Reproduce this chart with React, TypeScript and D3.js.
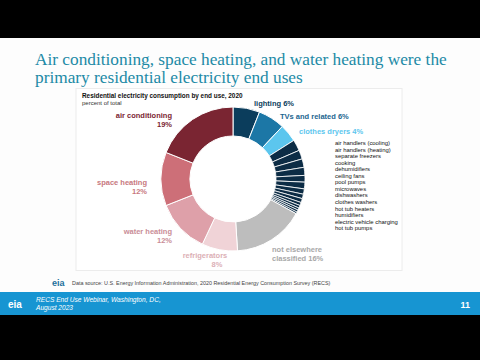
import React from "react";
import * as d3 from "d3";

// end uses, clockwise from 12 o'clock
const bigUses = ["lighting", "TVs and related", "clothes dryers"];
const bigValues = [6, 6, 4];
const smallUses = [
  "air handlers (cooling)",
  "air handlers (heating)",
  "separate freezers",
  "cooking",
  "dehumidifiers",
  "ceiling fans",
  "pool pumps",
  "microwaves",
  "dishwashers",
  "clothes washers",
  "hot tub heaters",
  "humidifiers",
  "electric vehicle charging",
  "hot tub pumps",
];
const smallValues = [2.5, 2, 1.9, 1.8, 1.5, 1.5, 1.2, 1.0, 0.9, 0.7, 0.6, 0.5, 0.5, 0.4];
const restUses = ["not elsewhere classified", "refrigerators", "water heating", "space heating", "air conditioning"];
const restValues = [16, 8, 12, 12, 19];

const colors: Record<string, string> = {
  lighting: "#0b3d5c",
  "TVs and related": "#1c77a6",
  "clothes dryers": "#5cc6ee",
  "not elsewhere classified": "#bdbdbd",
  refrigerators: "#f0d3d7",
  "water heating": "#dea0a9",
  "space heating": "#cd6f78",
  "air conditioning": "#7a2532",
};
const smallColor = "#0c2c45";

export default function App() {
  const slices = [
    ...bigUses.map((k, i) => ({ key: k, value: bigValues[i] })),
    ...smallUses.map((k, i) => ({ key: k, value: smallValues[i] })),
    ...restUses.map((k, i) => ({ key: k, value: restValues[i] })),
  ];
  const pie = d3.pie<{ key: string; value: number }>().sort(null).value((d) => d.value);
  const arc = d3.arc<d3.PieArcDatum<{ key: string; value: number }>>().innerRadius(43).outerRadius(72);
  const arcs = pie(slices);
  const cx = 233;
  const cy = 179;

  const serif = "'Liberation Serif', 'Times New Roman', serif";
  const sans = "'Liberation Sans', Arial, sans-serif";

  return (
    <svg width={480} height={360} style={{ position: "absolute", left: 0, top: 0 }}>
      <rect x={0} y={0} width={480} height={360} fill="#000" />
      <rect x={0} y={38} width={480} height={277} fill="#fdfdfd" />
      {/* title */}
      <text x={35} y={65} fontFamily={serif} fontSize={17.3} fill="#1c8aa6">
        Air conditioning, space heating, and water heating were the
      </text>
      <text x={35} y={83} fontFamily={serif} fontSize={17.3} fill="#1c8aa6">
        primary residential electricity end uses
      </text>

      {/* chart panel */}
      <rect x={76} y={88.5} width={326} height={182} fill="#fff" stroke="#ececec" strokeWidth={1} />
      <text x={82} y={98} fontFamily={sans} fontSize={6.4} fontWeight="bold" fill="#111">
        Residential electricity consumption by end use, 2020
      </text>
      <text x={82} y={105} fontFamily={sans} fontSize={6} fill="#333">
        percent of total
      </text>

      <g transform={`translate(${cx},${cy})`}>
        {arcs.map((a) => (
          <path
            key={a.data.key}
            d={arc(a) || ""}
            fill={colors[a.data.key] || smallColor}
            stroke="#fff"
            strokeWidth={colors[a.data.key] ? 1 : 0.8}
          />
        ))}
      </g>

      {/* labels */}
      <g fontFamily={sans} fontWeight="bold" fontSize={7.5}>
        <text x={172} y={118} textAnchor="end" fill="#7a2532">air conditioning</text>
        <text x={172} y={127} textAnchor="end" fill="#7a2532">19%</text>
        <text x={147} y={185} textAnchor="end" fill="#c77880">space heating</text>
        <text x={147} y={194} textAnchor="end" fill="#c77880">12%</text>
        <text x={172} y={234} textAnchor="end" fill="#c98d97">water heating</text>
        <text x={172} y={243} textAnchor="end" fill="#c98d97">12%</text>
        <text x={205} y={258} textAnchor="middle" fill="#dcb0b6">refrigerators</text>
        <text x={217} y={267} textAnchor="middle" fill="#dcb0b6">8%</text>
        <text x={272} y={252} fill="#a8a8a8">not elsewhere</text>
        <text x={272} y={261} fill="#a8a8a8">classified 16%</text>
        <text x={254} y={106} fill="#0b3d5c">lighting 6%</text>
        <text x={280} y={119} fill="#1c6690">TVs and related 6%</text>
        <text x={299} y={134} fill="#5cc6ee">clothes dryers 4%</text>
      </g>
      <g fontFamily={sans} fontSize={5.9} fill="#111">
        {smallUses.map((s, i) => (
          <text key={s} x={335} y={145 + i * 6.55}>
            {s}
          </text>
        ))}
      </g>

      {/* source */}
      <text x={52} y={286} fontFamily={sans} fontSize={9} fill="#1b6f9c" fontWeight="bold">eia</text>
      <text x={72} y={285} fontFamily={sans} fontSize={5.4} fill="#444">
        Data source: U.S. Energy Information Administration, 2020 Residential Energy Consumption Survey (RECS)
      </text>

      {/* footer */}
      <rect x={0} y={292} width={480} height={23} fill="#1795d2" />
      <text x={8} y={308} fontFamily={sans} fontSize={10} fill="#fff" fontWeight="bold">eia</text>
      <text x={36} y={302} fontFamily={sans} fontSize={6.6} fontStyle="italic" fill="#fff">
        RECS End Use Webinar, Washington, DC,
      </text>
      <text x={36} y={310} fontFamily={sans} fontSize={6.6} fontStyle="italic" fill="#fff">
        August 2023
      </text>
      <text x={470} y={308} textAnchor="end" fontFamily={sans} fontSize={9} fontWeight="bold" fill="#fff">
        11
      </text>
    </svg>
  );
}
